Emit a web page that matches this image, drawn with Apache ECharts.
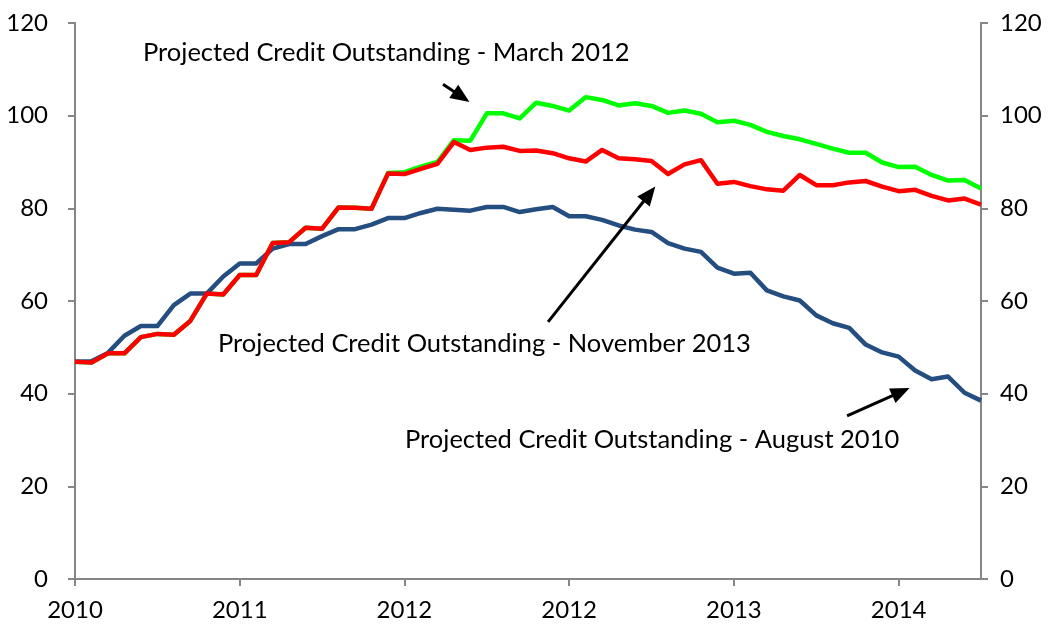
<!DOCTYPE html>
<html>
<head>
<meta charset="utf-8">
<script src="https://cdn.jsdelivr.net/npm/echarts@6/dist/echarts.min.js"></script>
<style>
  html, body { margin: 0; padding: 0; background: #fff; }
  #chart { width: 1055px; height: 627px; }
</style>
</head>
<body>
<div id="chart"></div>
<script>
// tick labels shown every 10 points along the bottom axis
const tickLabels = ['2010', '2011', '2012', '2012', '2013', '2014'];

// Projected Credit Outstanding - August 2010
const aug2010 = [
  46.9, 47.0, 48.8, 52.5, 54.6, 54.6, 59.1, 61.6, 61.6, 65.3,
  68.1, 68.1, 71.3, 72.3, 72.3, 74.0, 75.5, 75.5, 76.5, 77.9,
  77.9, 79.0, 79.9, 79.7, 79.5, 80.3, 80.3, 79.2, 79.8, 80.3,
  78.3, 78.3, 77.5, 76.3, 75.4, 74.9, 72.5, 71.3, 70.6, 67.2,
  65.9, 66.1, 62.3, 61.0, 60.1, 56.9, 55.2, 54.2, 50.6, 48.9,
  48.0, 45.0, 43.1, 43.7, 40.2, 38.5
];

// Projected Credit Outstanding - March 2012
const mar2012 = [
  46.9, 46.7, 48.7, 48.7, 52.2, 52.9, 52.7, 55.7, 61.6, 61.4,
  65.6, 65.6, 72.5, 72.7, 75.8, 75.6, 80.2, 80.1, 79.9, 87.6,
  87.8, 89.0, 90.0, 94.7, 94.6, 100.5, 100.5, 99.4, 102.8, 102.1,
  101.1, 104.0, 103.4, 102.2, 102.7, 102.1, 100.6, 101.1, 100.4, 98.6,
  98.9, 98.0, 96.5, 95.6, 94.9, 93.9, 92.9, 92.0, 92.0, 89.9,
  88.9, 89.0, 87.2, 86.0, 86.1, 84.3
];

// Projected Credit Outstanding - November 2013
const nov2013 = [
  46.9, 46.7, 48.7, 48.7, 52.2, 52.9, 52.7, 55.7, 61.6, 61.4,
  65.6, 65.6, 72.5, 72.7, 75.8, 75.6, 80.2, 80.1, 79.9, 87.5,
  87.4, 88.5, 89.6, 94.3, 92.6, 93.1, 93.3, 92.4, 92.5, 91.9,
  90.8, 90.1, 92.6, 90.8, 90.6, 90.2, 87.4, 89.5, 90.4, 85.3,
  85.7, 84.8, 84.1, 83.8, 87.2, 85.0, 85.0, 85.6, 85.9, 84.7,
  83.7, 84.0, 82.7, 81.7, 82.1, 80.8
];

// annotation arrows in data space: [tail, head centre]
const arrows = [
  [[22.34, 106.8], [23.47, 104.1]],
  [[28.72, 55.5], [34.87, 83.1]],
  [[46.87, 35.2], [50.14, 40.4]]
];

const font = 'Lato, "Open Sans", sans-serif';
const axisGray = '#868686';

const toPairs = arr => arr.map((v, i) => [i, v]);

const chart = echarts.init(document.getElementById('chart'));

const yAxisBase = {
  type: 'value',
  min: 0,
  max: 120,
  interval: 20,
  axisLine: { show: true, lineStyle: { color: axisGray, width: 2 } },
  axisTick: { show: true, length: 7, lineStyle: { color: axisGray, width: 2 } },
  splitLine: { show: false },
  axisLabel: { color: '#000', fontSize: 24, fontFamily: font }
};

const lineSeries = (name, data, color, width) => ({
  name,
  type: 'line',
  data: toPairs(data),
  symbol: 'none',
  lineStyle: { color, width, join: 'round' },
  itemStyle: { color },
  silent: true,
  animation: false
});

const red = lineSeries('November 2013', nov2013, '#ff0000', 4.5);
red.markLine = {
  silent: true,
  symbol: ['none', 'triangle'],
  symbolSize: [16, 19],
  label: { show: false },
  lineStyle: { color: '#000', width: 3, type: 'solid' },
  data: arrows.map(a => [{ coord: a[0] }, { coord: a[1] }]),
  animation: false
};

const textStyle = { font: '25.5px ' + font, fill: '#000', verticalAlign: 'middle' };

chart.setOption({
  animation: false,
  backgroundColor: '#fff',
  grid: { left: 75, right: 74, top: 23, bottom: 48, containLabel: false },
  xAxis: {
    type: 'value',
    min: 0,
    max: 55,
    interval: 10,
    axisLine: { show: true, onZero: false, lineStyle: { color: axisGray, width: 2 } },
    axisTick: { show: true, length: 7, lineStyle: { color: axisGray, width: 2 } },
    splitLine: { show: false },
    axisLabel: {
      color: '#000',
      fontSize: 24,
      fontFamily: font,
      margin: 19,
      showMaxLabel: false,
      formatter: v => (v % 10 === 0 ? tickLabels[v / 10] : '')
    }
  },
  yAxis: [
    { ...yAxisBase, position: 'left', axisLabel: { ...yAxisBase.axisLabel, margin: 27 } },
    { ...yAxisBase, position: 'right', axisLabel: { ...yAxisBase.axisLabel, margin: 19 } }
  ],
  series: [
    lineSeries('March 2012', mar2012, '#00ff00', 4.5),
    lineSeries('August 2010', aug2010, '#254e80', 4.5),
    red
  ],
  graphic: [
    { type: 'text', x: 143, y: 53, style: { ...textStyle, text: 'Projected Credit Outstanding - March 2012' } },
    { type: 'text', x: 218, y: 344, style: { ...textStyle, text: 'Projected Credit Outstanding - November 2013' } },
    { type: 'text', x: 405, y: 440, style: { ...textStyle, text: 'Projected Credit Outstanding - August 2010' } }
  ]
});

window.addEventListener('resize', () => chart.resize());
</script>
</body>
</html>
